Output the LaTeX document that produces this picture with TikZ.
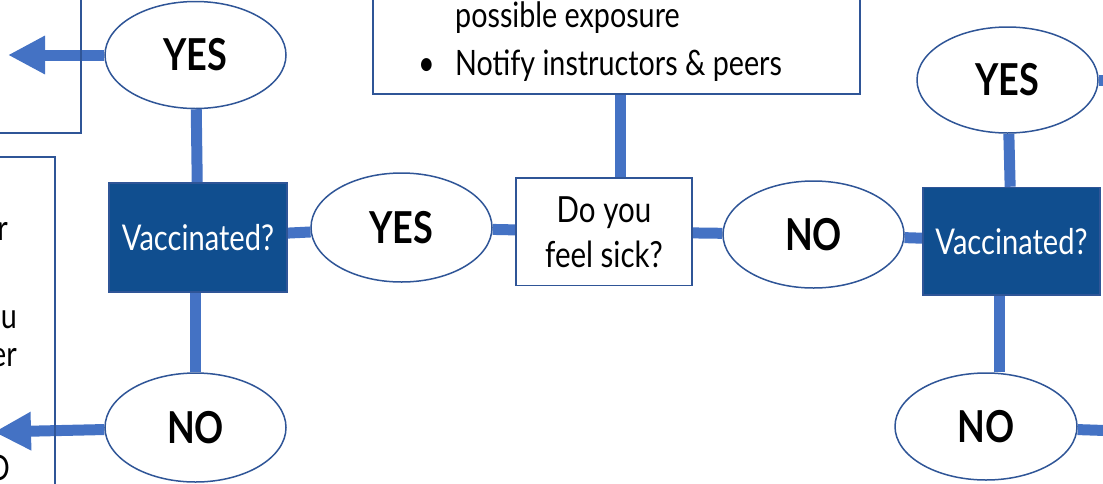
\documentclass[tikz,border=0pt]{standalone}
\usepackage{fontspec}
\setmainfont{Lato}[FakeStretch=0.82]
\usetikzlibrary{shapes.geometric,arrows.meta}
\definecolor{linkblue}{HTML}{4472C4}
\definecolor{edgeblue}{HTML}{2F5597}
\definecolor{navy}{HTML}{104E8F}
\pgfdeclarelayer{bg}
\pgfsetlayers{bg,main}
\begin{document}
\begin{tikzpicture}[x=1pt,y=-1pt,
  oval/.style={ellipse,draw=edgeblue,line width=1.5pt,fill=white,inner sep=0pt,
    minimum width=181pt,minimum height=107pt,font=\fontsize{44}{44}\selectfont\bfseries},
  qbox/.style={rectangle,draw=edgeblue,line width=1.5pt,fill=navy,text=white,inner sep=0pt,
    font=\fontsize{35.5}{35.5}\selectfont},
  wbox/.style={rectangle,draw=edgeblue,line width=1.5pt,fill=white,inner sep=0pt,
    font=\fontsize{35}{45}\selectfont,align=center},
  openbox/.style={rectangle,draw=edgeblue,line width=1.5pt,inner sep=0pt},
  link/.style={draw=linkblue,line width=11pt},
  arrowlink/.style={link,-{Triangle[length=37pt,width=36pt]}},
  frag/.style={font=\fontsize{35}{35}\selectfont,inner sep=0pt,anchor=base east},
]
\useasboundingbox (0,0) rectangle (1103,483);
\clip (0,0) rectangle (1103,483);
% left boxes (cut off)
\node[openbox,minimum width=100pt,minimum height=150pt] (lbox1) at (31,58) {};
\node[openbox,minimum width=80pt,minimum height=360pt] (lbox2) at (15,337) {};
\node[frag] (f1) at (8,240) {r};
\node[frag] (f2) at (17,328) {ou};
\node[frag] (f3) at (17,366) {er};
\node[frag] (f4) at (10,480) {O};
% top box (cut off)
\node[wbox,minimum width=487pt,minimum height=150pt] (topbox) at (616.5,19) {};
\node[frag,anchor=base west] (t1) at (455,27) {possible exposure};
\node[frag,anchor=base west] (t0) at (418,75) {•};
\node[frag,anchor=base west] (t2) at (455,75) {Notify instructors \& peers};
% main nodes
\node[oval] (yes1) at (195.5,55) {YES};
\node[qbox,minimum width=178pt,minimum height=109pt] (vl) at (198,237.5) {Vaccinated?};
\node[oval,minimum height=109pt] (no1) at (195.5,427.5) {NO};
\node[oval,minimum height=109pt] (yes2) at (401.5,227.5) {YES};
\node[wbox,minimum width=176pt,minimum height=107.5pt,font=\fontsize{36}{45}\selectfont] (sick) at (604,231.75) {Do you\\feel sick?};
\node[oval] (no2) at (813.5,234.5) {NO};
\node[qbox,minimum width=177pt,minimum height=107.5pt] (vr) at (1011.5,241.25) {Vaccinated?};
\node[oval,minimum height=106pt] (yes3) at (1007.5,80) {YES};
\node[oval,minimum width=182pt] (no3) at (986,426.5) {NO};
\coordinate (a1) at (8,55);
\coordinate (a2) at (-6,432);
\coordinate (r1) at (1120,80);
\coordinate (r2) at (1120,431);
\begin{pgfonlayer}{bg}
  \draw[link] ([xshift=16pt]sick.north) -- ([xshift=16pt]sick.north |- topbox.south);
  \draw[link] (yes1) -- (vl);
  \draw[link] ([xshift=-0.5pt]no1.north) -- ([xshift=-0.5pt]no1.north |- vl.south);
  \draw[link] (vl) -- (yes2);
  \draw[link] (yes2) -- (sick);
  \draw[link] (sick) -- (no2);
  \draw[link] (no2) -- (vr);
  \draw[link] (yes3) -- (vr);
  \draw[link] ([xshift=13pt]no3.north) -- ([xshift=13pt]no3.north |- vr.south);
  \draw[link] (yes3) -- (r1);
  \draw[link] (no3) -- (r2);
  \draw[arrowlink] (yes1) -- (a1);
  \draw[arrowlink] (no1) -- (a2);
\end{pgfonlayer}
\end{tikzpicture}
\end{document}
